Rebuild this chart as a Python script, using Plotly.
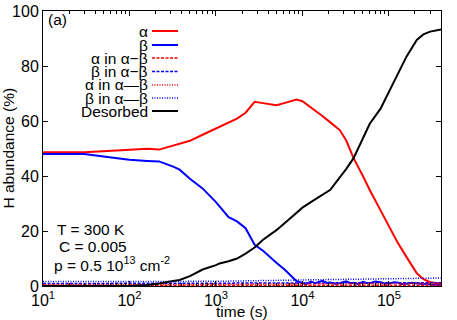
import plotly.graph_objects as go

# ---- data ----
time_s = [10, 30, 80, 100, 160, 220, 320, 380, 500, 700, 1000, 1100, 1400, 1750,
          2200, 2800, 3500, 5000, 6300, 8500, 10000, 12500, 17000, 21000, 27000,
          32000, 39000, 50000, 60000, 80000, 100000, 125000, 160000, 210000,
          250000, 300000, 400000]
alpha = [48.6, 48.6, 49.4, 49.6, 49.9, 49.6, 51.0, 51.6, 52.8, 55.0, 57.2, 57.9,
         59.3, 60.9, 63.0, 67.0, 66.5, 65.7, 66.6, 67.8, 67.2, 65.0, 61.8, 59.5,
         56.7, 53.0, 46.5, 40.0, 34.9, 27.5, 22.0, 16.0, 10.5, 4.6, 2.5, 1.4, 0.8]
desorbed = [0.0, 0.0, 0.0, 0.1, 0.4, 0.9, 1.8, 2.2, 3.6, 6.0, 7.6, 8.2, 9.0, 10.0,
            11.8, 14.0, 16.8, 20.3, 23.0, 26.4, 28.5, 30.5, 33.0, 35.0, 39.5,
            42.5, 46.5, 53.5, 59.0, 64.5, 70.5, 77.0, 83.5, 89.5, 91.5, 92.5, 93.3]

time_beta = [10, 30, 80, 100, 160, 220, 320, 380, 500, 700, 1000, 1100, 1400, 1750,
             2200, 2800, 3500, 5000, 6300, 8500, 10000, 11000, 12500, 14000, 17000,
             19000, 21000, 24000, 27000, 30000, 32000, 36000, 39000, 44000, 50000,
             55000, 60000, 70000, 80000, 90000, 100000, 115000, 125000, 140000,
             160000, 185000, 210000, 230000, 250000, 280000, 300000, 350000, 400000]
beta = [48.0, 48.0, 46.3, 45.9, 45.5, 45.3, 43.4, 42.3, 39.0, 35.5, 30.5, 29.0,
        25.0, 23.5, 21.0, 15.0, 12.8, 8.5, 5.8, 1.8, 1.2, 0.7, 1.6, 1.0, 1.9,
        1.2, 1.3, 0.8, 1.0, 1.6, 1.7, 1.0, 1.2, 0.7, 1.5, 1.1, 1.0, 1.6, 1.4,
        0.8, 0.9, 1.4, 1.3, 0.7, 0.8, 1.2, 1.0, 0.6, 0.6, 0.9, 0.5, 0.4, 0.4]

time_small = [10, 100, 1000, 10000, 100000, 400000]
alpha_in_ab_dash = [0.3, 0.3, 0.4, 0.5, 0.4, 0.3]
beta_in_ab_dash = [0.9, 0.9, 1.0, 1.1, 1.2, 1.2]
alpha_in_ab_dot = [0.5, 0.5, 0.6, 0.8, 1.0, 1.0]
beta_in_ab_dot = [1.6, 1.6, 1.7, 2.2, 2.7, 2.9]

x_tickvals = [10, 100, 1000, 10000, 100000]
x_ticktext = ["10<sup>1</sup>", "10<sup>2</sup>", "10<sup>3</sup>",
              "10<sup>4</sup>", "10<sup>5</sup>"]
y_tickvals = [0, 20, 40, 60, 80, 100]

legend_labels = ["α", "β", "α in α−β", "β in α−β", "α in α—β", "β in α—β", "Desorbed"]

RED = "#ff0000"
BLUE = "#0000ff"
BLACK = "#000000"
FONT = "Liberation Sans, Arial, Helvetica, sans-serif"

series = [
    (time_s, alpha, RED, "solid", 2),
    (time_beta, beta, BLUE, "solid", 2),
    (time_small, alpha_in_ab_dash, RED, "3px,1.5px", 1.5),
    (time_small, beta_in_ab_dash, BLUE, "3px,1.5px", 1.5),
    (time_small, alpha_in_ab_dot, RED, "1px,1.5px", 1.5),
    (time_small, beta_in_ab_dot, BLUE, "1px,1.5px", 1.5),
    (time_s, desorbed, BLACK, "solid", 2),
]

fig = go.Figure()
for (xs, ys, col, dash, w), name in zip(series, legend_labels):
    fig.add_trace(go.Scatter(x=xs, y=ys, mode="lines", name=name,
                             line=dict(color=col, dash=dash, width=w),
                             showlegend=False))

W, H = 457, 320
L, R, T, B = 43, 16, 11, 34
pw, ph = W - L - R, H - T - B

def px_x(x):
    return (x - L) / pw

def px_y(y):
    return (H - B - y) / ph

annotations = []
shapes = []
row_y = [31, 45, 58, 71.5, 85, 98, 111]
for (xs, ys, col, dash, w), name, ry in zip(series, legend_labels, row_y):
    annotations.append(dict(x=px_x(150), y=px_y(ry), xref="paper", yref="paper",
                            text=name, showarrow=False, xanchor="right",
                            yanchor="middle", font=dict(size=15.5, color=BLACK)))
    shapes.append(dict(type="line", xref="paper", yref="paper",
                       x0=px_x(152), x1=px_x(178), y0=px_y(ry), y1=px_y(ry),
                       line=dict(color=col, dash=dash, width=w)))

annotations += [
    dict(x=px_x(46), y=px_y(20), xref="paper", yref="paper", text="(a)",
         showarrow=False, xanchor="left", yanchor="middle", font=dict(size=15.5)),
    dict(x=px_x(55), y=px_y(229), xref="paper", yref="paper", text="T = 300 K",
         showarrow=False, xanchor="left", yanchor="middle", font=dict(size=15.5)),
    dict(x=px_x(57), y=px_y(246), xref="paper", yref="paper", text="C = 0.005",
         showarrow=False, xanchor="left", yanchor="middle", font=dict(size=15.5)),
    dict(x=px_x(52), y=px_y(264), xref="paper", yref="paper",
         text="p = 0.5 10<sup>13</sup> cm<sup>-2</sup>",
         showarrow=False, xanchor="left", yanchor="middle", font=dict(size=15.5)),
    dict(x=0, y=0.5, xref="paper", yref="paper", text="H abundance (%)",
         textangle=-90, showarrow=False, xanchor="center", yanchor="middle",
         xshift=-35, font=dict(size=15.5)),
    dict(x=0.5, y=0, xref="paper", yref="paper", text="time (s)",
         showarrow=False, xanchor="center", yanchor="middle",
         yshift=-25, font=dict(size=15.5)),
]

minor_vals = [m * 10 ** e for e in range(1, 6) for m in range(2, 10)]

fig.update_layout(
    width=W, height=H,
    margin=dict(l=L, r=R, t=T, b=B, autoexpand=False),
    paper_bgcolor="white", plot_bgcolor="white",
    font=dict(family=FONT, size=16, color=BLACK),
    annotations=annotations, shapes=shapes,
    showlegend=False,
)
fig.update_xaxes(type="log", range=[1, 5.602], tickmode="array",
                 tickvals=x_tickvals, ticktext=x_ticktext, automargin=False,
                 ticks="inside", ticklen=5, tickcolor=BLACK,
                 showline=True, linecolor=BLACK, linewidth=1, mirror="allticks",
                 showgrid=False, zeroline=False,
                 minor=dict(tickmode="array", tickvals=minor_vals,
                            ticks="inside", ticklen=3, tickcolor=BLACK,
                            showgrid=False),
                 tickfont=dict(size=16))
fig.update_yaxes(range=[0, 100], tickmode="array", tickvals=y_tickvals,
                 automargin=False,
                 ticks="inside", ticklen=5, tickcolor=BLACK,
                 showline=True, linecolor=BLACK, linewidth=1, mirror="allticks",
                 showgrid=False, zeroline=False, tickfont=dict(size=16))

fig.write_html("out.html", config={"displayModeBar": False},
               post_script="document.body.style.margin='0';document.body.style.overflow='hidden';")
